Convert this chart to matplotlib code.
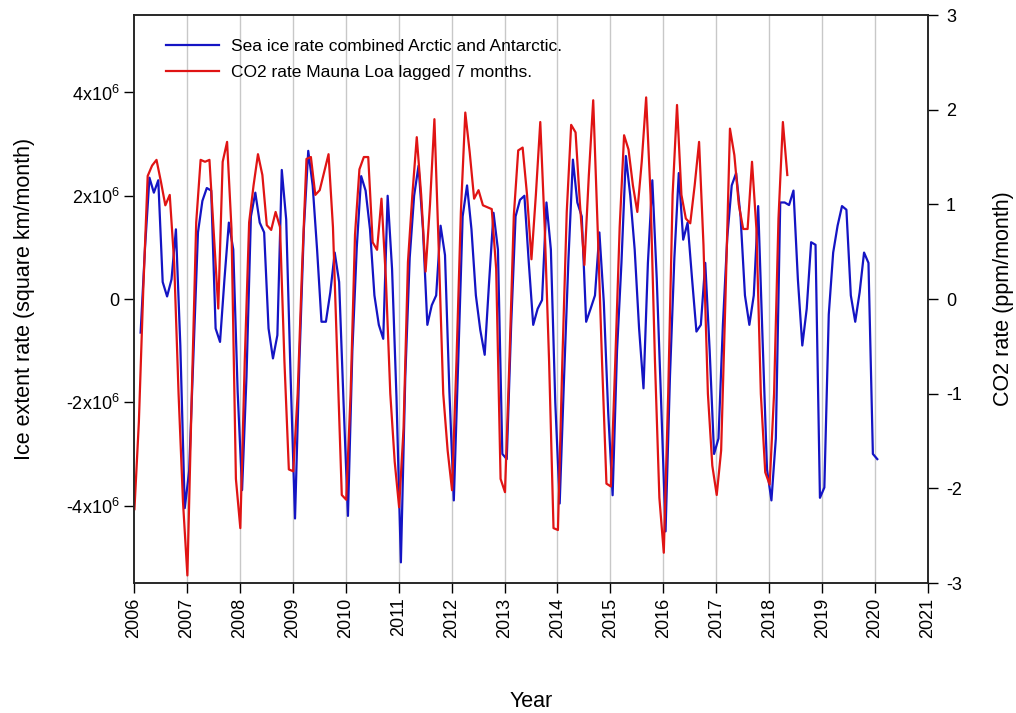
import numpy as np
import matplotlib.pyplot as plt
from matplotlib.ticker import FuncFormatter

plt.rcParams['font.family'] = ['Liberation Sans', 'DejaVu Sans']
plt.rcParams['mathtext.default'] = 'regular'
plt.rcParams['axes.unicode_minus'] = False

# monthly sea ice extent rate (million square km / month), Feb 2006 onwards
ice_start = 2006 + 1.5 / 12
ice_rate = [
    -0.65, 1.0, 2.35, 2.06, 2.3, 0.33, 0.05, 0.38, 1.35, -0.9, -4.05, -3.33,
    -1.0, 1.29, 1.9, 2.15, 2.1, -0.57, -0.83, 0.38, 1.48, 0.96, -1.8, -3.7,
    -1.5, 1.6, 2.06, 1.48, 1.29, -0.57, -1.15, -0.7, 2.5, 1.54, -1.5, -4.25,
    -1.2, 1.35, 2.87, 2.2, 0.96, -0.44, -0.44, 0.13, 0.9, 0.33, -2.0, -4.2,
    -1.0, 1.0, 2.38, 2.1, 1.35, 0.07, -0.5, -0.77, 2.0, 0.58, -1.9, -5.1,
    -1.5, 0.8, 2.0, 2.58, 1.35, -0.5, -0.12, 0.07, 1.42, 0.85, -1.8, -3.9,
    -1.2, 1.6, 2.2, 1.35, 0.07, -0.6, -1.08, 0.33, 1.67, 0.96, -3.0, -3.1,
    -0.5, 1.6, 1.92, 2.0, 0.7, -0.5, -0.19, -0.02, 1.87, 0.96, -2.0, -3.96,
    -1.5, 0.8, 2.7, 1.87, 1.6, -0.44, -0.19, 0.07, 1.29, -0.06, -2.2, -3.8,
    -1.0, 0.7, 2.77, 2.0, 0.96, -0.57, -1.73, 0.7, 2.3, 0.4, -2.0, -4.5,
    -1.5, 0.8, 2.44, 1.15, 1.48, 0.4, -0.63, -0.5, 0.7, -1.0, -3.0, -2.7,
    -0.5, 1.2, 2.2, 2.44, 1.6, 0.07, -0.5, 0.07, 1.8, -0.8, -3.3, -3.9,
    -2.7, 1.87, 1.87, 1.82, 2.1, 0.38, -0.9, -0.19, 1.1, 1.05, -3.85, -3.65,
    -0.3, 0.9, 1.42, 1.8, 1.73, 0.07, -0.44, 0.13, 0.9, 0.7, -3.0, -3.1,
]

# monthly CO2 rate at Mauna Loa (ppm / month), shifted by 7 months
co2_start = 2006 + 0.1 / 12
co2_rate = [
    -2.22, -1.3, 0.1, 1.3, 1.41, 1.47, 1.24, 0.99, 1.1, 0.39, -1.0, -2.14,
    -2.92, -1.0, 0.81, 1.47, 1.45, 1.47, 0.68, -0.1, 1.45, 1.66, 0.74, -1.9,
    -2.42, -0.66, 0.81, 1.2, 1.53, 1.31, 0.78, 0.73, 0.92, 0.76, -0.66, -1.8,
    -1.82, -1.0, 0.33, 1.48, 1.5, 1.1, 1.15, 1.34, 1.53, 0.76, -0.66, -2.07,
    -2.12, -1.0, 0.68, 1.37, 1.5, 1.5, 0.6, 0.52, 1.06, 0.21, -1.0, -1.72,
    -2.2, -1.37, 0.39, 1.1, 1.71, 1.1, 0.29, 1.0, 1.9, 0.5, -1.0, -1.6,
    -2.02, -0.66, 0.92, 1.97, 1.55, 1.06, 1.15, 0.99, 0.97, 0.95, 0.32, -1.9,
    -2.04, -0.66, 0.88, 1.57, 1.6, 1.1, 0.42, 1.1, 1.87, 0.76, -0.66, -2.42,
    -2.44, -0.66, 0.92, 1.84, 1.76, 1.0, 0.36, 1.3, 2.1, 0.76, -0.66, -1.95,
    -1.98, -0.66, 0.76, 1.73, 1.58, 1.2, 0.92, 1.45, 2.13, 1.1, -0.66, -2.1,
    -2.68, -1.0, 1.1, 2.05, 1.1, 0.85, 0.8, 1.2, 1.66, 0.57, -1.0, -1.76,
    -2.07, -1.6, 0.04, 1.8, 1.52, 1.0, 0.74, 0.74, 1.45, 0.74, -1.0, -1.83,
    -1.96, -1.0, 0.85, 1.87, 1.31,
]

years = list(range(2006, 2022))
ice_ticks = [-4e6, -2e6, 0, 2e6, 4e6]
co2_ticks = [-3, -2, -1, 0, 1, 2, 3]

ice_t = ice_start + np.arange(len(ice_rate)) / 12
co2_t = co2_start + np.arange(len(co2_rate)) / 12
ice_vals = np.array(ice_rate) * 1e6

fig = plt.figure(figsize=(10.16, 7.13), dpi=100)
ax = fig.add_axes([0.1319, 0.1823, 0.7815, 0.7966])
ax2 = ax.twinx()

ax.set_xlim(2006, 2021)
ax.set_ylim(-5.5e6, 5.5e6)
ax2.set_ylim(-3, 3)

for yr in years[1:-1]:
    ax.axvline(yr, color='#c8c8c8', lw=1.0, zorder=0)

blue_line, = ax.plot(ice_t, ice_vals, color='#1414c4', lw=1.6, zorder=2)
red_line, = ax2.plot(co2_t, co2_rate, color='#e01414', lw=1.6, zorder=2)


def sci_label(v, pos):
    if v == 0:
        return '0'
    return '%dx10$^{6}$' % round(v / 1e6)


ax.set_xticks(years)
ax.set_xticklabels([str(y) for y in years], rotation=90)
ax.set_yticks(ice_ticks)
ax.yaxis.set_major_formatter(FuncFormatter(sci_label))
ax2.set_yticks(co2_ticks)

for a in (ax, ax2):
    a.tick_params(direction='out', length=7, width=1, labelsize=13, colors='black')
    for s in a.spines.values():
        s.set_linewidth(1.1)
        s.set_color('#222222')
ax2.tick_params(axis='y', pad=6)

ax.set_xlabel('Year', fontsize=15.5, labelpad=38)
ax.set_ylabel('Ice extent rate (square km/month)', fontsize=15.5, labelpad=22)
ax2.set_ylabel('CO2 rate (ppm/month)', fontsize=15.5, labelpad=22)

ax.legend([blue_line, red_line],
          ['Sea ice rate combined Arctic and Antarctic.',
           'CO2 rate Mauna Loa lagged 7 months.'],
          loc='upper left', bbox_to_anchor=(0.02, 0.985), frameon=False,
          fontsize=12.5, handlelength=3.1, handletextpad=0.7, labelspacing=0.6)

fig.savefig('out.png', dpi=100)
